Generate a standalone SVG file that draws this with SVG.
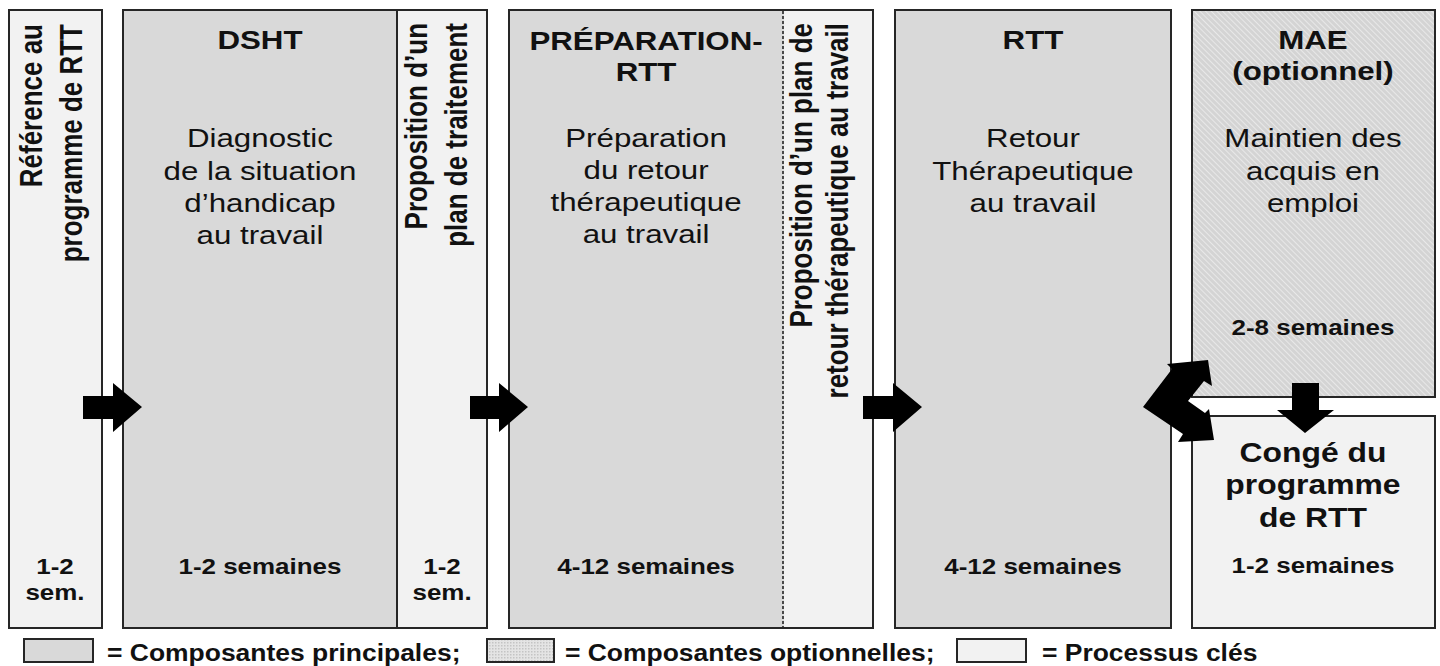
<svg xmlns="http://www.w3.org/2000/svg" width="1440" height="666" viewBox="0 0 1440 666">
<defs>
<pattern id="hatch" width="4" height="4" patternUnits="userSpaceOnUse" patternTransform="rotate(-45)">
<rect width="4" height="4" fill="#d4d4d4"/>
<line x1="0" y1="0" x2="0" y2="4" stroke="#f4f4f4" stroke-width="1.3"/>
</pattern>
<pattern id="dots" width="3" height="3" patternUnits="userSpaceOnUse">
<rect width="3" height="3" fill="#e4e4e4"/>
<rect width="1.5" height="1.5" fill="#c4c4c4"/>
</pattern>
<style>
.main{fill:#d9d9d9;stroke:#262626;stroke-width:2}
.proc{fill:#f2f2f2;stroke:#262626;stroke-width:2}
.opt{fill:url(#hatch);stroke:#262626;stroke-width:2}
.dash{stroke:#262626;stroke-width:1.6;stroke-dasharray:3 2}
text{font-family:"Liberation Sans",Arial,sans-serif;fill:#111}
.t{font-size:26.5px;font-weight:bold;text-anchor:middle}
.b{font-size:26.5px;text-anchor:middle}
.d{font-size:22px;font-weight:bold;text-anchor:middle}
.v{font-size:26px;font-weight:bold;text-anchor:end}
.c{font-size:27px;font-weight:bold;text-anchor:middle}
.l{font-size:24.5px;font-weight:bold}
.arr{fill:#000}
</style>
</defs>
<rect width="1440" height="666" fill="#fff"/>

<g id="reference">
<rect class="proc" x="9" y="10" width="93" height="618"/>
<g transform="scale(1.18 1)">
<text class="v" transform="translate(35.6 24) rotate(-90)">Référence au</text>
<text class="v" transform="translate(69.5 24) rotate(-90)">programme de RTT</text>
<text class="d" x="46.6" y="574">1-2</text>
<text class="d" x="46.6" y="600">sem.</text>
</g>
</g>

<g id="dsht">
<rect class="main" x="123" y="10" width="274" height="618"/>
<g transform="scale(1.18 1)">
<text class="t" x="220.3" y="49">DSHT</text>
<text class="b" x="220.3" y="147">Diagnostic</text>
<text class="b" x="220.3" y="180">de la situation</text>
<text class="b" x="220.3" y="212">d’handicap</text>
<text class="b" x="220.3" y="244">au travail</text>
<text class="d" x="220.3" y="574">1-2 semaines</text>
</g>
</g>

<g id="proposition-plan">
<rect class="proc" x="397" y="10" width="90" height="618"/>
<g transform="scale(1.18 1)">
<text class="v" transform="translate(361.9 23) rotate(-90)">Proposition d’un</text>
<text class="v" transform="translate(395.8 23) rotate(-90)">plan de traitement</text>
<text class="d" x="374.6" y="574">1-2</text>
<text class="d" x="374.6" y="600">sem.</text>
</g>
</g>

<g id="preparation-rtt">
<rect class="main" x="509" y="10" width="364" height="618"/>
<rect x="784" y="11" width="88" height="616" fill="#f2f2f2"/>
<line class="dash" x1="783" y1="11" x2="783" y2="627"/>
<g transform="scale(1.18 1)">
<text class="t" x="547.5" y="50">PRÉPARATION-</text>
<text class="t" x="547.5" y="81">RTT</text>
<text class="b" x="547.5" y="147">Préparation</text>
<text class="b" x="547.5" y="179">du retour</text>
<text class="b" x="547.5" y="211">thérapeutique</text>
<text class="b" x="547.5" y="243">au travail</text>
<text class="d" x="547.5" y="574">4-12 semaines</text>
</g>
</g>

<g id="proposition-retour">
<g transform="scale(1.18 1)">
<text class="v" transform="translate(688.1 23) rotate(-90)">Proposition d’un plan de</text>
<text class="v" transform="translate(718.6 23) rotate(-90)">retour thérapeutique au travail</text>
</g>
</g>

<g id="rtt">
<rect class="main" x="895" y="10" width="276" height="618"/>
<g transform="scale(1.18 1)">
<text class="t" x="875.4" y="49">RTT</text>
<text class="b" x="875.4" y="147">Retour</text>
<text class="b" x="875.4" y="180">Thérapeutique</text>
<text class="b" x="875.4" y="212">au travail</text>
<text class="d" x="875.4" y="574">4-12 semaines</text>
</g>
</g>

<g id="mae">
<rect class="opt" x="1192" y="10" width="243" height="387"/>
<g transform="scale(1.18 1)">
<text class="t" x="1112.7" y="49">MAE</text>
<text class="t" x="1112.7" y="80">(optionnel)</text>
<text class="b" x="1112.7" y="147">Maintien des</text>
<text class="b" x="1112.7" y="180">acquis en</text>
<text class="b" x="1112.7" y="212">emploi</text>
<text class="d" x="1112.7" y="335">2-8 semaines</text>
</g>
</g>

<g id="conge">
<rect class="proc" x="1192" y="416" width="243" height="212"/>
<g transform="scale(1.18 1)">
<text class="c" x="1112.7" y="462">Congé du</text>
<text class="c" x="1112.7" y="494">programme</text>
<text class="c" x="1112.7" y="527">de RTT</text>
<text class="d" x="1112.7" y="573">1-2 semaines</text>
</g>
</g>

<g id="connectors">
<polygon class="arr" points="83,396 113,396 113,383 142,407 113,432 113,419 83,419"/>
<polygon class="arr" points="470,396 499,396 499,383 528,407 499,432 499,419 470,419"/>
<polygon class="arr" points="863,396 893,396 893,383 922,407 893,432 893,419 863,419"/>
<polygon class="arr" points="1143,407 1172,369 1167,364 1208,360 1212,386 1204,381 1188,401 1205,413 1209,409 1214,440 1178,442 1183,434"/>
<polygon class="arr" points="1292,383 1319,383 1319,410 1334,410 1305,433 1277,410 1292,410"/>
</g>

<g id="legend">
<rect class="main" x="24" y="639" width="69" height="23"/>
<rect x="487" y="639" width="67" height="23" fill="url(#dots)" stroke="#262626" stroke-width="2"/>
<rect class="proc" x="957" y="639" width="69" height="23"/>
<g transform="scale(1.08 1)">
<text class="l" x="99.1" y="661">= Composantes principales;</text>
<text class="l" x="523.1" y="661">= Composantes optionnelles;</text>
<text class="l" x="964.8" y="661">= Processus clés</text>
</g>
</g>
</svg>
